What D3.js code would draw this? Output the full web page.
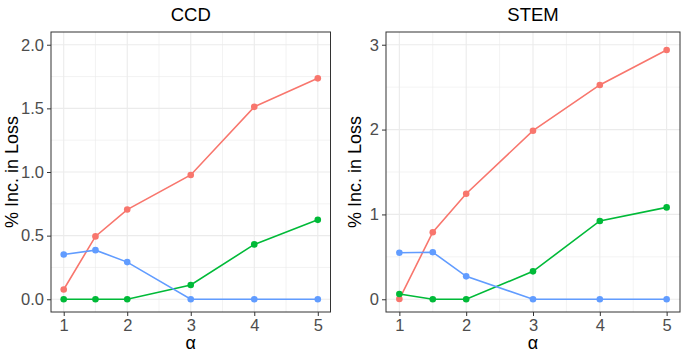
<!DOCTYPE html>
<html>
<head>
<meta charset="utf-8">
<script src="https://cdn.jsdelivr.net/npm/d3@7"></script>
<style>
body { margin: 0; background: #fff; }
text { font-family: "Liberation Sans", Arial, sans-serif; }
</style>
</head>
<body>
<svg width="685" height="356"></svg>
<script>
// data
var alpha = [1, 1.5, 2, 3, 4, 5];
var xTicks = [1, 2, 3, 4, 5];

var ccdRed   = [0.077, 0.494, 0.705, 0.977, 1.512, 1.736];
var ccdGreen = [0, 0, 0, 0.112, 0.431, 0.624];
var ccdBlue  = [0.352, 0.386, 0.292, 0, 0, 0];
var ccdTicks = [0, 0.5, 1, 1.5, 2];
var ccdTickLabels = ["0.0", "0.5", "1.0", "1.5", "2.0"];

var stemRed   = [0.003, 0.79, 1.244, 1.987, 2.526, 2.937];
var stemGreen = [0.063, 0, 0, 0.329, 0.923, 1.083];
var stemBlue  = [0.548, 0.555, 0.27, 0, 0, 0];
var stemTicks = [0, 1, 2, 3];
var stemTickLabels = ["0", "1", "2", "3"];

var colors = ["#F8766D", "#00BA38", "#619CFF"];

var svg = d3.select("svg");

function makePanel(opt) {
  var x = d3.scaleLinear().domain([0.8, 5.2]).range([opt.left, opt.right]);
  var y = d3.scaleLinear().domain(opt.ydom).range([312, 32]);
  var g = svg.append("g");

  // minor grid
  var xMinor = [1.5, 2.5, 3.5, 4.5];
  var yMinor = opt.ticks.slice(0, -1).map((t, i) => (t + opt.ticks[i + 1]) / 2);
  g.selectAll(".xmin").data(xMinor).enter().append("line")
    .attr("x1", d => x(d)).attr("x2", d => x(d)).attr("y1", 32).attr("y2", 312)
    .attr("stroke", "#EBEBEB").attr("stroke-width", 0.6);
  g.selectAll(".ymin").data(yMinor).enter().append("line")
    .attr("x1", opt.left).attr("x2", opt.right).attr("y1", d => y(d)).attr("y2", d => y(d))
    .attr("stroke", "#EBEBEB").attr("stroke-width", 0.6);
  // major grid
  g.selectAll(".xmaj").data(xTicks).enter().append("line")
    .attr("x1", d => x(d)).attr("x2", d => x(d)).attr("y1", 32).attr("y2", 312)
    .attr("stroke", "#EBEBEB").attr("stroke-width", 1.1);
  g.selectAll(".ymaj").data(opt.ticks).enter().append("line")
    .attr("x1", opt.left).attr("x2", opt.right).attr("y1", d => y(d)).attr("y2", d => y(d))
    .attr("stroke", "#EBEBEB").attr("stroke-width", 1.1);

  // series
  var line = d3.line().x((d, i) => x(alpha[i])).y(d => y(d));
  opt.series.forEach(function(s, k) {
    g.append("path").datum(s).attr("d", line)
      .attr("fill", "none").attr("stroke", colors[k]).attr("stroke-width", 1.6);
    g.selectAll(".pt" + k).data(s).enter().append("circle")
      .attr("cx", (d, i) => x(alpha[i])).attr("cy", d => y(d)).attr("r", 3.3)
      .attr("fill", colors[k]);
  });

  // border
  g.append("rect").attr("x", opt.left).attr("y", 32)
    .attr("width", opt.right - opt.left).attr("height", 280)
    .attr("fill", "none").attr("stroke", "#333333").attr("stroke-width", 1);

  // axes
  var xa = g.append("g").attr("transform", "translate(0,312)")
    .call(d3.axisBottom(x).tickValues(xTicks).tickSize(4).tickPadding(3).tickFormat(d3.format("d")));
  var ya = g.append("g").attr("transform", "translate(" + opt.left + ",0)")
    .call(d3.axisLeft(y).tickValues(opt.ticks).tickSize(4).tickPadding(3)
      .tickFormat((d, i) => opt.labels[i]));
  [xa, ya].forEach(function(a) {
    a.select(".domain").remove();
    a.selectAll(".tick line").attr("stroke", "#333333");
    a.selectAll(".tick text").attr("fill", "#4D4D4D").style("font-size", "16.5px");
  });

  g.append("text").attr("x", (opt.left + opt.right) / 2).attr("y", 21)
    .attr("text-anchor", "middle").style("font-size", "18.5px").attr("fill", "#000")
    .text(opt.title);
  g.append("text").attr("x", (opt.left + opt.right) / 2).attr("y", 349)
    .attr("text-anchor", "middle").style("font-size", "18px").attr("fill", "#000")
    .text("α");
  g.append("text")
    .attr("transform", "translate(" + opt.ylabX + ",172) rotate(-90)")
    .attr("text-anchor", "middle").style("font-size", "18px").attr("fill", "#000")
    .text("% Inc. in Loss");
}

makePanel({
  left: 51, right: 330.5, ydom: [-0.1, 2.1], ticks: ccdTicks, labels: ccdTickLabels,
  series: [ccdRed, ccdGreen, ccdBlue], title: "CCD", ylabX: 18
});
makePanel({
  left: 386, right: 680, ydom: [-0.15, 3.15], ticks: stemTicks, labels: stemTickLabels,
  series: [stemRed, stemGreen, stemBlue], title: "STEM", ylabX: 361
});
</script>
</body>
</html>
